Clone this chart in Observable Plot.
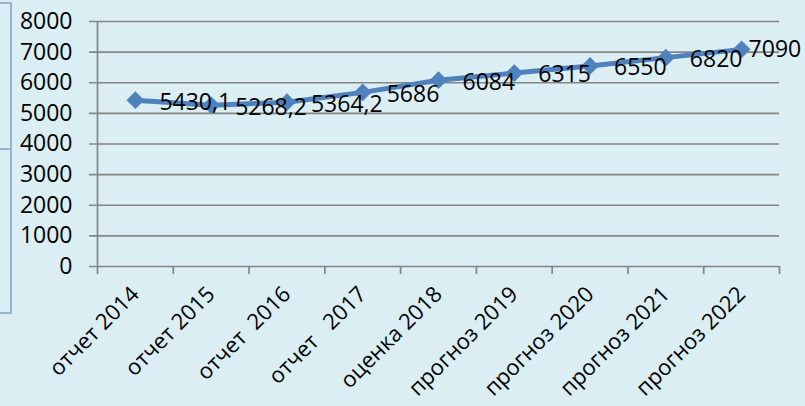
<!DOCTYPE html>
<html>
<head>
<meta charset="utf-8">
<script src="https://cdn.jsdelivr.net/npm/d3@7"></script>
<script src="https://cdn.jsdelivr.net/npm/@observablehq/plot@0.6"></script>
<style>
html, body { margin: 0; padding: 0; background: #DBEEF4; }
#wrap { position: relative; width: 805px; height: 406px; overflow: hidden; background: #DBEEF4; }
#wrap svg { position: absolute; left: 0; top: 0; }
#wrap svg text { white-space: pre; }
.deco { position: absolute; left: 0; width: 10px; border: 2px solid #95B3D7; border-left: none; box-sizing: content-box; }
</style>
</head>
<body>
<div id="wrap">
  <div class="deco" style="top:2px;height:144px"></div>
  <div class="deco" style="top:148px;height:162px"></div>
</div>
<script>
const categories = ["отчет 2014", "отчет 2015", "отчет  2016", "отчет   2017", "оценка 2018", "прогноз 2019", "прогноз 2020", "прогноз 2021", "прогноз 2022"];
const values = [5430.1, 5268.2, 5364.2, 5686, 6084, 6315, 6550, 6820, 7090];
const yTicks = [0, 1000, 2000, 3000, 4000, 5000, 6000, 7000, 8000];

const data = categories.map((c, i) => ({
  i, c, v: values[i], label: String(values[i]).replace(".", ",")
}));
const X = d => d.i + 0.5;
const FONT = "'Open Sans', 'Noto Sans', sans-serif";
const grid = "#858585";

const chart = Plot.plot({
  width: 805,
  height: 406,
  marginLeft: 97,
  marginRight: 26,
  marginTop: 21,
  marginBottom: 140,
  style: { background: "transparent", fontFamily: FONT, color: "#000", overflow: "visible" },
  x: { type: "linear", domain: [0, categories.length] },
  y: { domain: [0, 8000] },
  marks: [
    Plot.ruleY(yTicks, { stroke: grid, strokeWidth: 1.7, insetLeft: -8 }),
    Plot.ruleX([0], { stroke: grid, strokeWidth: 1.7 }),
    Plot.axisX({ ticks: d3.range(categories.length + 1), tickSize: 8, tickFormat: () => "", stroke: grid, strokeWidth: 1.7, label: null }),
    Plot.axisX({ ticks: d3.range(categories.length).map(i => i + 0.5), tickSize: 0, tickPadding: 24, tickRotate: -45,
      tickFormat: d => categories[Math.floor(d)], fontSize: 22, label: null }),
    Plot.axisY({ ticks: yTicks, tickSize: 0, tickPadding: 25, fontSize: 23, label: null, tickFormat: d => String(d) }),
    Plot.line(data, { x: X, y: "v", stroke: "#4F81BD", strokeWidth: 5 }),
    Plot.dot(data, { x: X, y: "v", symbol: "diamond2", r: 8, fill: "#4F81BD", stroke: "none" }),
    Plot.text(data, { filter: d => d.i < categories.length - 1, x: X, y: "v", text: "label", textAnchor: "start", dx: 24, dy: 2, fontSize: 23, fill: "#000" }),
    Plot.text(data, { filter: d => d.i === categories.length - 1, x: X, y: "v", text: "label", textAnchor: "start", dx: 7, dy: 0, fontSize: 23, fill: "#000" })
  ]
});
document.getElementById("wrap").appendChild(chart);
</script>
</body>
</html>
